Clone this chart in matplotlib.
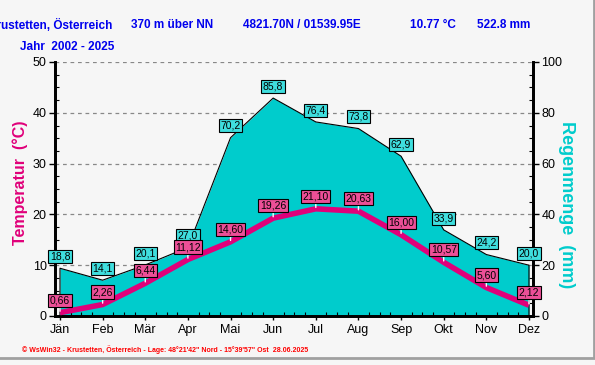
import matplotlib
matplotlib.use("Agg")
import matplotlib.pyplot as plt
from matplotlib.ticker import MultipleLocator
from matplotlib.lines import Line2D

plt.rcParams['font.family'] = ['Liberation Sans', 'DejaVu Sans']

months = ["Jän", "Feb", "Mär", "Apr", "Mai", "Jun", "Jul", "Aug", "Sep", "Okt", "Nov", "Dez"]
temperature = [0.66, 2.26, 6.44, 11.12, 14.60, 19.26, 21.10, 20.63, 16.00, 10.57, 5.60, 2.12]
rain = [18.8, 14.1, 20.1, 27.0, 70.2, 85.8, 76.4, 73.8, 62.9, 33.9, 24.2, 20.0]
temp_labels = ["0,66", "2,26", "6,44", "11,12", "14,60", "19,26", "21,10", "20,63", "16,00", "10,57", "5,60", "2,12"]
rain_labels = ["18,8", "14,1", "20,1", "27,0", "70,2", "85,8", "76,4", "73,8", "62,9", "33,9", "24,2", "20,0"]

BG = "#f6f6f6"
CYAN = "#00cccc"
MAGENTA = "#e0007a"
BLUE = "#0000ee"

fig = plt.figure(figsize=(5.95, 3.65), dpi=100, facecolor=BG)
ax = fig.add_axes([55/595, 1-316/365, (533-55)/595, (316-62)/365])
ax2 = ax.twinx()
x = list(range(len(months)))

# rain area on ax2 (behind), temperature on ax (front)
ax2.set_facecolor(BG)
ax.set_zorder(ax2.get_zorder() + 1)
ax.patch.set_visible(False)

ax2.fill_between(x, rain, 0, color=CYAN, zorder=2, lw=0)
ax2.plot([x[0]] + x + [x[-1]], [0] + rain + [0], color="black", lw=0.8, zorder=3)
ax2.set_ylim(0, 100)
ax2.set_axisbelow(True)
ax2.yaxis.set_major_locator(MultipleLocator(20))
ax2.yaxis.set_minor_locator(MultipleLocator(5))
ax2.grid(True, which="major", axis="both", color="#888888", ls=(0, (3, 3)), lw=0.9)

ax.plot(x, temperature, color=MAGENTA, lw=4, solid_capstyle="butt", zorder=3)
ax.set_ylim(0, 50)
ax.set_xlim(-0.117, 11.094)
ax.set_xticks(x)
ax.set_xticklabels(months)
ax.yaxis.set_major_locator(MultipleLocator(10))
ax.yaxis.set_minor_locator(MultipleLocator(2.5))
ax.xaxis.set_minor_locator(MultipleLocator(0.25))

for a in (ax, ax2):
    a.spines["top"].set_visible(False)
    for s in ("left", "right", "bottom"):
        a.spines[s].set_linewidth(2)
        a.spines[s].set_color("black")
    a.tick_params(which="major", direction="out", length=4, width=1, labelsize=9, colors="black", pad=2)
    a.tick_params(which="minor", direction="in", length=3, width=0.8, colors="black")
ax.tick_params(axis="x", which="major", length=3, pad=3)
ax2.xaxis.set_visible(False)

# labels (all drawn in the front axes)
for xi, v, lab in zip(x, rain, rain_labels):
    ax.annotate(lab, (xi, v), xycoords=ax2.transData, xytext=(0, 8.5), textcoords="offset points",
                ha="center", va="center", fontsize=7.5, color="black", zorder=6,
                bbox=dict(boxstyle="square,pad=0.15", fc="#3fdede", ec="black", lw=0.8))
for xi, v, lab in zip(x, temperature, temp_labels):
    ax.annotate(lab, (xi, v), xytext=(0, 9), textcoords="offset points",
                ha="center", va="center", fontsize=7.5, color="black", zorder=6,
                bbox=dict(boxstyle="square,pad=0.15", fc="#ec4f97", ec="black", lw=0.8),
                arrowprops=dict(arrowstyle="-", color="white", lw=1, shrinkA=0, shrinkB=1))

ax.set_ylabel("Temperatur  (°C)", color=MAGENTA, fontsize=11.5, fontweight="bold")
ax.yaxis.set_label_coords(-27/478, (316-183)/254)
ax2.set_ylabel("Regenmenge  (mm)", color=CYAN, fontsize=13, fontweight="bold", rotation=-90, va="center")
ax2.yaxis.set_label_coords(1 + 34/478, (316-205)/254)

# header texts
hdr = dict(color=BLUE, fontsize=8.5, fontweight="bold", va="center", ha="left")
fig.text(-12/595, 1-25/365, "Krustetten, Österreich", **hdr)
fig.text(131/595, 1-25/365, "370 m über NN", **hdr)
fig.text(243/595, 1-25/365, "4821.70N / 01539.95E", **hdr)
fig.text(410/595, 1-25/365, "10.77 °C", **hdr)
fig.text(477/595, 1-25/365, "522.8 mm", **hdr)
fig.text(20/595, 1-47/365, "Jahr  2002 - 2025", **hdr)

fig.text(22/595, 1-350/365, "© WsWin32 - Krustetten, Österreich - Lage: 48°21'42\" Nord - 15°39'57\" Ost  28.06.2025",
         color="#ff0000", fontsize=5, fontweight="bold", va="center", ha="left")

# frame border lines (right and bottom)
fig.add_artist(Line2D([593.5/595, 593.5/595], [1-357/365, 1], transform=fig.transFigure, color="#a0a0a0", lw=2))
fig.add_artist(Line2D([0, 594/595], [1-357.5/365, 1-357.5/365], transform=fig.transFigure, color="#a0a0a0", lw=2))

fig.savefig("out.png", dpi=100, facecolor=BG)
